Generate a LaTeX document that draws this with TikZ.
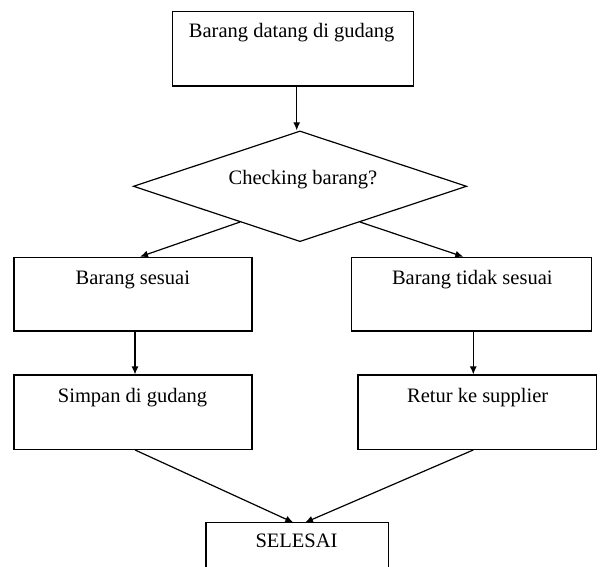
\documentclass[tikz,border=0pt]{standalone}
\usepackage{fontspec}
\setmainfont{Liberation Serif}
\usetikzlibrary{shapes.geometric,arrows.meta,calc}
\begin{document}
\begin{tikzpicture}[x=1pt,y=-1pt,
  line width=1.2pt,
  boxnode/.style={draw,rectangle,inner sep=0pt},
  decision/.style={draw,diamond,inner sep=0pt,aspect=3},
  txt/.style={font=\fontsize{20.5}{24}\selectfont,anchor=base,inner sep=0pt},
  arr/.style={-{Latex[length=8pt,width=7pt]}}]
\useasboundingbox (0,0) rectangle (600,567);

% process boxes
\node[boxnode,minimum width=240.6pt,minimum height=74.3pt] (start) at (293,48.8) {};
\node[decision,minimum width=333.4pt,minimum height=110.7pt] (check) at (300,186.3) {};
\node[boxnode,minimum width=238pt,minimum height=73.7pt] (ok) at (133,294.2) {};
\node[boxnode,minimum width=240pt,minimum height=73.7pt] (notok) at (471.7,294.2) {};
\node[boxnode,minimum width=238pt,minimum height=74.3pt] (store) at (133,412.2) {};
\node[boxnode,minimum width=238.6pt,minimum height=74.3pt] (retur) at (477.2,412.2) {};
% final box runs past the lower edge
\coordinate (endtl) at (206,522.5);
\coordinate (endtr) at (388.3,522.5);
\draw (206,575) -- (endtl) -- (endtr) -- (388.3,575);
\coordinate (endl) at (293.3,522.5);
\coordinate (endr) at (305,522.5);

% labels
\node[txt] (tstart) at (291.7,37.7) {Barang datang di gudang};
\node[txt] (tcheck) at (303,185) {Checking barang?};
\node[txt] (tok) at (132.8,284) {Barang sesuai};
\node[txt] (tnotok) at (472.3,284) {Barang tidak sesuai};
\node[txt] (tstore) at (132.5,402.7) {Simpan di gudang};
\node[txt] (tretur) at (477.7,402.7) {Retur ke supplier};
\node[txt] (tend) at (296.5,547.3) {SELESAI};

% connectors
\draw[arr] ([xshift=3.7pt]start.south) -- ([xshift=3.7pt]start.south |- check.north);
\draw[arr] ($(check.west)!0.64!(check.south)$) -- ([xshift=7pt]ok.north);
\draw[arr] ($(check.east)!0.64!(check.south)$) -- ([xshift=-8.4pt]notok.north);
\draw[arr] ([xshift=2pt]ok.south) -- ([xshift=2pt]store.north);
\draw[arr] ([xshift=1.6pt]notok.south) -- ([xshift=1.6pt]notok.south |- retur.north);
\draw[arr] ([xshift=2pt]store.south) -- (endl);
\draw[arr] ([xshift=-3.9pt]retur.south) -- (endr);
\end{tikzpicture}
\end{document}
